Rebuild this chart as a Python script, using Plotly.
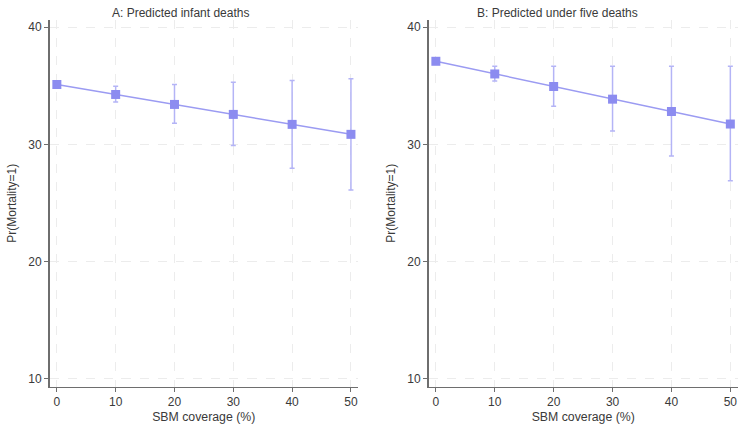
import plotly.graph_objects as go

coverage = [0, 10, 20, 30, 40, 50]

infant_pred = [35.1, 34.25, 33.4, 32.55, 31.7, 30.85]
infant_hi = [35.4, 34.95, 35.1, 35.3, 35.45, 35.6]
infant_lo = [34.8, 33.6, 31.8, 29.9, 27.95, 26.1]

u5_pred = [37.08, 36.0, 34.93, 33.85, 32.8, 31.73]
u5_hi = [37.3, 36.65, 36.65, 36.65, 36.65, 36.65]
u5_lo = [36.85, 35.4, 33.25, 31.13, 29.0, 26.9]

titles = ["A: Predicted infant deaths", "B: Predicted under five deaths"]
y_ticks = [10, 20, 30, 40]
x_ticks = [0, 10, 20, 30, 40, 50]

W, H = 742, 431
marker_col = "rgb(140,140,240)"
line_col = "rgb(155,155,242)"
err_col = "rgb(180,180,246)"
font = "Liberation Sans, Arial, sans-serif"

fig = go.Figure()

panels = [
    (infant_pred, infant_hi, infant_lo, "x", "y"),
    (u5_pred, u5_hi, u5_lo, "x2", "y2"),
]
for pred, hi, lo, xa, ya in panels:
    plus = [h - p for h, p in zip(hi, pred)]
    minus = [p - l for p, l in zip(pred, lo)]
    fig.add_trace(go.Scatter(
        x=coverage, y=pred, xaxis=xa, yaxis=ya, mode="lines+markers",
        line=dict(color=line_col, width=1.5),
        marker=dict(symbol="square", size=9, color=marker_col),
        error_y=dict(type="data", symmetric=False, array=plus, arrayminus=minus,
                     color=err_col, thickness=1.5, width=2.5),
        showlegend=False, cliponaxis=False, hoverinfo="skip",
    ))

def px_x(a, b):
    return [a / W, b / W]

def px_y(top, bottom):
    return [1 - bottom / H, 1 - top / H]

axis_common = dict(
    showline=True, linecolor="#6e6e6e", linewidth=1.5,
    ticks="outside", ticklen=4, tickcolor="#6e6e6e", tickwidth=1,
    showgrid=True, gridcolor="#ececec", griddash="dash", gridwidth=1,
    zeroline=False, tickfont=dict(size=12, color="#3a3a3a", family=font),
    automargin=False,
)

fig.update_layout(
    width=W, height=H, margin=dict(l=0, r=0, t=0, b=0),
    paper_bgcolor="white", plot_bgcolor="white",
    font=dict(family=font, color="#3a3a3a"),
    xaxis=dict(domain=px_x(49.5, 358), range=[-1.25, 51.2], tickvals=x_ticks,
               anchor="y", title=dict(text="SBM coverage (%)", font=dict(size=12.3), standoff=4),
               **axis_common),
    yaxis=dict(domain=px_y(20, 386.5), range=[9.35, 40.6], tickvals=y_ticks,
               anchor="x", title=dict(text="Pr(Mortality=1)", font=dict(size=12), standoff=9),
               **axis_common),
    xaxis2=dict(domain=px_x(428.5, 738), range=[-1.25, 51.3], tickvals=x_ticks,
                anchor="y2", title=dict(text="SBM coverage (%)", font=dict(size=12.3), standoff=4),
                **axis_common),
    yaxis2=dict(domain=px_y(20, 386.5), range=[9.35, 40.6], tickvals=y_ticks,
                anchor="x2", title=dict(text="Pr(Mortality=1)", font=dict(size=12), standoff=9),
                **axis_common),
)

title_centers = [180, 557]
for t, cx in zip(titles, title_centers):
    fig.add_annotation(text=t, x=cx / W, y=1 - 12.5 / H, xref="paper", yref="paper",
                       xanchor="center", yanchor="middle",
                       showarrow=False, font=dict(size=12, color="#3a3a3a", family=font))

fig.write_html("out.html", config={"displayModeBar": False, "staticPlot": True},
               post_script="document.body.style.margin='0';document.body.style.overflow='hidden';")
